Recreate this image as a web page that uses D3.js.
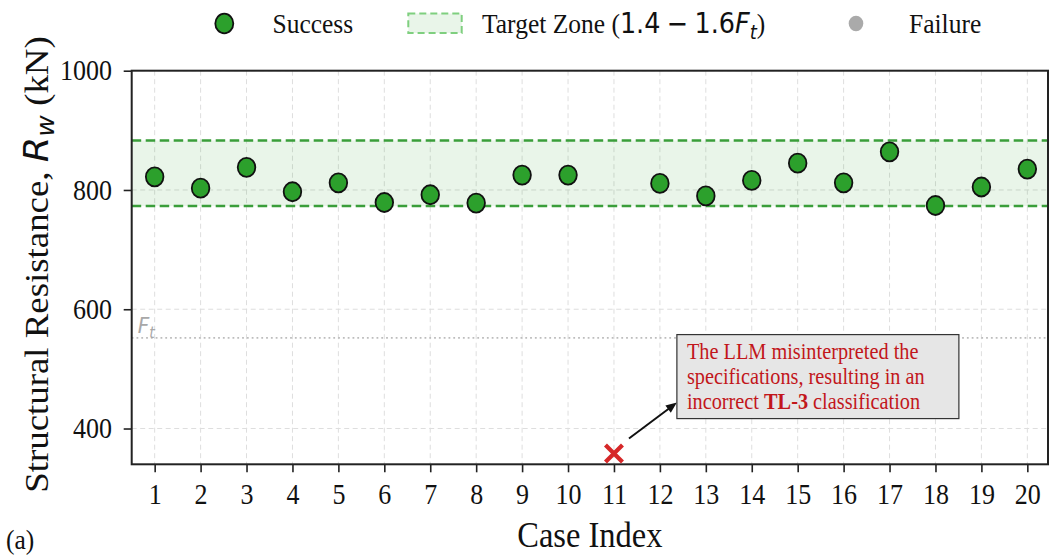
<!DOCTYPE html>
<html><head><meta charset="utf-8">
<script src="https://cdn.jsdelivr.net/npm/d3@7"></script>
<style>body{margin:0;background:#fff}svg{display:block}</style>
</head><body><svg id="c" width="1049" height="557"></svg>
<script>
// ---------- data ----------
const cases = [1,2,3,4,5,6,7,8,9,10,11,12,13,14,15,16,17,18,19,20];
const successCases  = [1,2,3,4,5,6,7,8,9,10,12,13,14,15,16,17,18,19,20];
const successValues = [822,803,838,797,812,779,792,778,825,825,811,790,816,845,812,864,774,805,835];
const failureCases  = [11];
const failureValues = [358];
const yTickValues = [400,600,800,1000];
const FtValue = 552;
const zoneBounds = [773, 883];
const annotationLines = [
  [{t:"The LLM misinterpreted the", b:false}],
  [{t:"specifications, resulting in an", b:false}],
  [{t:"incorrect ", b:false},{t:"TL-3", b:true},{t:" classification", b:false}]
];

// ---------- layout ----------
const SERIF = "'Liberation Serif','Times New Roman',Times,serif";
const SANS = "'DejaVu Sans',sans-serif";
const S = 1.1; // vertical stretch of the reference image
const L = 131.7, R = 1048, T = 70.7, B = 464.3;
const svg = d3.select("#c");
const x = d3.scaleLinear().domain([0.5, 20.45]).range([L, R]);
const y = d3.scaleLinear().domain([340, 1000]).range([B, T]);

function txt(parent, px, py, size, family){
  return parent.append("text")
    .attr("transform",`translate(${px},${py}) scale(1,${S})`)
    .attr("font-family",family||SERIF).attr("font-size",size).attr("fill","#111");
}

svg.append("rect").attr("width",1049).attr("height",557).attr("fill","#fff");

// grid
const grid = svg.append("g").attr("stroke","#dedede").attr("stroke-width",1).attr("stroke-dasharray","5,3.5");
grid.selectAll(".v").data(cases).join("line")
  .attr("x1",d=>x(d)).attr("x2",d=>x(d)).attr("y1",T).attr("y2",B);
grid.selectAll(".h").data(yTickValues).join("line")
  .attr("x1",L).attr("x2",R).attr("y1",d=>y(d)).attr("y2",d=>y(d));

// target zone
svg.append("rect").attr("x",L).attr("width",R-L)
  .attr("y",y(zoneBounds[1])).attr("height",y(zoneBounds[0])-y(zoneBounds[1]))
  .attr("fill","#2ca02c").attr("fill-opacity",0.1);
svg.selectAll(".zl").data(zoneBounds).join("line")
  .attr("x1",L).attr("x2",R).attr("y1",d=>y(d)).attr("y2",d=>y(d))
  .attr("stroke","#3a9e3a").attr("stroke-width",2.6).attr("stroke-dasharray","9.5,4.5");

// Ft line
svg.append("line").attr("x1",L).attr("x2",R).attr("y1",y(FtValue)).attr("y2",y(FtValue))
  .attr("stroke","#bdbdbd").attr("stroke-width",1.8).attr("stroke-dasharray","1.8,3");
const ftl = txt(svg, L+6, y(FtValue)-5, 20, SANS).attr("font-style","italic").attr("fill","#a8a8a8");
ftl.append("tspan").text("F");
ftl.append("tspan").attr("font-size",14).attr("dy",4.5).text("t");

// axes
const xAxis = svg.append("g").attr("transform",`translate(0,${B})`)
  .call(d3.axisBottom(x).tickValues(cases).tickSize(8).tickFormat(d3.format("d")));
const yAxis = svg.append("g").attr("transform",`translate(${L},0)`)
  .call(d3.axisLeft(y).tickValues(yTickValues).tickSize(8).tickFormat(d3.format("d")));
[xAxis,yAxis].forEach(g=>{
  g.select(".domain").remove();
  g.selectAll(".tick line").attr("stroke","#222").attr("stroke-width",1.6);
  g.selectAll(".tick text").attr("font-family",SERIF).attr("font-size",26).attr("fill","#111")
    .attr("x",null).attr("y",null).attr("dy",null);
});
xAxis.selectAll(".tick text").attr("transform",`translate(0,40) scale(1,${S})`);
yAxis.selectAll(".tick text").attr("transform",`translate(-19.7,9.2) scale(1,${S})`);
// spines
svg.append("rect").attr("x",L).attr("y",T).attr("width",R-L).attr("height",B-T)
  .attr("fill","none").attr("stroke","#222").attr("stroke-width",2);

// success points
svg.selectAll(".pt").data(successCases.map((c,i)=>({c, v:successValues[i]}))).join("ellipse")
  .attr("cx",d=>x(d.c)).attr("cy",d=>y(d.v)).attr("rx",8.8).attr("ry",9.5)
  .attr("fill","#2ca02c").attr("stroke","#111").attr("stroke-width",1.8);

// failure point (x marker)
const xm = 8.5;
svg.selectAll(".fail").data(failureCases.map((c,i)=>({c, v:failureValues[i]}))).join("path")
  .attr("d",d=>{const cx=x(d.c), cy=y(d.v);
    return `M${cx-xm},${cy-xm}L${cx+xm},${cy+xm}M${cx+xm},${cy-xm}L${cx-xm},${cy+xm}`;})
  .attr("stroke","#d62728").attr("stroke-width",4.2).attr("fill","none");

// annotation
const bx = x(12.37), by = y(557.5), bw = 282, bh = 84;
const fx = x(failureCases[0]), fy = y(failureValues[0]);
const ax1 = fx+15, ay1 = fy-15, ax2 = bx, ay2 = by + 68;
const ang = Math.atan2(ay2-ay1, ax2-ax1);
svg.append("line").attr("x1",ax1).attr("y1",ay1)
  .attr("x2",ax2-9*Math.cos(ang)).attr("y2",ay2-9*Math.sin(ang))
  .attr("stroke","#111").attr("stroke-width",2);
const ah = 11, aw = 4.5;
svg.append("path").attr("d",()=>{
  const bxp = ax2-ah*Math.cos(ang), byp = ay2-ah*Math.sin(ang);
  const px = -Math.sin(ang)*aw, py = Math.cos(ang)*aw;
  return `M${ax2},${ay2}L${bxp+px},${byp+py}L${bxp-px},${byp-py}Z`;
}).attr("fill","#111");
svg.append("rect").attr("x",bx).attr("y",by).attr("width",bw).attr("height",bh)
  .attr("fill","#e6e6e6").attr("stroke","#333").attr("stroke-width",1.2);
annotationLines.forEach((parts,i)=>{
  const t = txt(svg, bx+10, by+24+i*25, 20.3).attr("fill","#c2161b");
  parts.forEach(p=>t.append("tspan").attr("font-weight",p.b?"bold":"normal").text(p.t));
});

// axis labels
txt(svg, (L+R)/2, 546.5, 32.5).attr("text-anchor","middle").text("Case Index");
const yl = svg.append("text").attr("transform",`translate(48,${(T+B)/2-3}) rotate(-90) scale(${S},1)`)
  .attr("text-anchor","middle").attr("font-family",SERIF).attr("font-size",33.5).attr("fill","#111");
yl.append("tspan").text("Structural Resistance, ");
yl.append("tspan").attr("font-family",SANS).attr("font-style","italic").text("R");
yl.append("tspan").attr("font-family",SANS).attr("font-style","italic").attr("font-size",24).attr("dy",6).text("w");
yl.append("tspan").attr("dy",-6).text(" (kN)");

txt(svg, 6, 549, 25.5).text("(a)");

// legend
const lg = svg.append("g");
const ly = 23.5;
lg.append("ellipse").attr("cx",224.3).attr("cy",ly).attr("rx",9).attr("ry",9.8)
  .attr("fill","#2ca02c").attr("stroke","#111").attr("stroke-width",1.8);
txt(lg, 272.5, 33.3, 25.5).text("Success");
lg.append("rect").attr("x",408.3).attr("y",13.5).attr("width",53.4).attr("height",19.5)
  .attr("fill","#2ca02c").attr("fill-opacity",0.1)
  .attr("stroke","#7fcf7f").attr("stroke-width",2).attr("stroke-dasharray","7,4");
const tz = txt(lg, 482, 33.3, 25.5);
tz.append("tspan").text("Target Zone (");
tz.append("tspan").attr("font-family",SANS).attr("font-size",25.5).text("1.4\u2005\u2212\u20051.6");
tz.append("tspan").attr("font-family",SANS).attr("font-style","italic").attr("font-size",25.5).text("F");
tz.append("tspan").attr("font-family",SANS).attr("font-style","italic").attr("font-size",18).attr("dy",5).text("t");
tz.append("tspan").attr("dy",-5).text(")");
lg.append("ellipse").attr("cx",856).attr("cy",ly).attr("rx",7.3).attr("ry",7.8).attr("fill","#aaaaaa");
txt(lg, 909, 33.3, 25.5).text("Failure");
</script></body></html>
